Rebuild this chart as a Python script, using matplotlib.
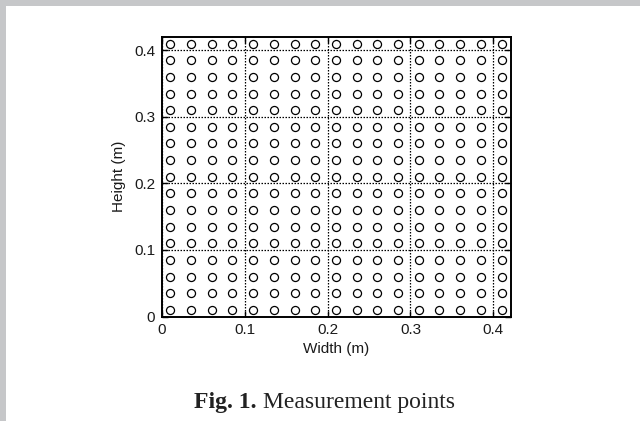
import numpy as np
import matplotlib
matplotlib.use("Agg")
import matplotlib.pyplot as plt
from matplotlib.patches import Rectangle

# measurement point coordinates (m)
width_pts = [0.010, 0.035, 0.060, 0.085, 0.110, 0.135, 0.160, 0.185, 0.210,
             0.235, 0.260, 0.285, 0.310, 0.335, 0.360, 0.385, 0.410]
height_pts = [0.010, 0.035, 0.060, 0.085, 0.110, 0.135, 0.160, 0.185, 0.210,
              0.235, 0.260, 0.285, 0.310, 0.335, 0.360, 0.385, 0.410]
x_ticks = [0, 0.1, 0.2, 0.3, 0.4]
y_ticks = [0, 0.1, 0.2, 0.3, 0.4]
x_tick_labels = ["0", "0.1", "0.2", "0.3", "0.4"]
y_tick_labels = ["0", "0.1", "0.2", "0.3", "0.4"]

W, H = 640, 421
fig = plt.figure(figsize=(W / 100, H / 100), dpi=100)
fig.patch.set_facecolor("white")

# gray page frame (top and left strips)
fig.patches.append(Rectangle((0, 1 - 6 / H), 1, 6 / H, transform=fig.transFigure,
                             facecolor="#c6c7c9", edgecolor="none", zorder=0))
fig.patches.append(Rectangle((0, 0), 6 / W, 1, transform=fig.transFigure,
                             facecolor="#c6c7c9", edgecolor="none", zorder=0))

ax = fig.add_axes([162 / W, 1 - 316.5 / H, (511 - 162) / W, (316.5 - 37) / H])

gx, gy = np.meshgrid(width_pts, height_pts)
ax.plot(gx.ravel(), gy.ravel(), linestyle="none", marker="o", markersize=5.8,
        markerfacecolor="none", markeredgecolor="black", markeredgewidth=0.9, zorder=3)

ax.set_xlim(0, 0.4214)
ax.set_ylim(0, 0.42)
ax.set_xticks(x_ticks)
ax.set_xticklabels(x_tick_labels)
ax.set_yticks(y_ticks)
ax.set_yticklabels(y_tick_labels)

sans = "Liberation Sans"
for lab in ax.get_xticklabels() + ax.get_yticklabels():
    lab.set_fontfamily(sans)
    lab.set_fontsize(11)
    lab.set_color("#1a1a1a")

ax.tick_params(direction="in", length=4, width=1, top=True, right=True, pad=5)
ax.grid(True, linestyle=(0, (1.2, 1.2)), color="black", linewidth=0.9)
for s in ax.spines.values():
    s.set_linewidth(1.4)

ax.set_xlabel("Width (m)", fontfamily=sans, fontsize=11, labelpad=3, color="#1a1a1a")
ax.set_ylabel("Height (m)", fontfamily=sans, fontsize=11, labelpad=6, color="#1a1a1a")

# caption
fig.text(194 / W, 1 - 408 / H, "Fig. 1.", fontfamily="Liberation Serif",
         fontweight="bold", fontsize=17, va="baseline", ha="left", color="#222222")
fig.text(263 / W, 1 - 408 / H, "Measurement points", fontfamily="Liberation Serif",
         fontsize=17, va="baseline", ha="left", color="#222222")

fig.savefig("out.png", dpi=100)
